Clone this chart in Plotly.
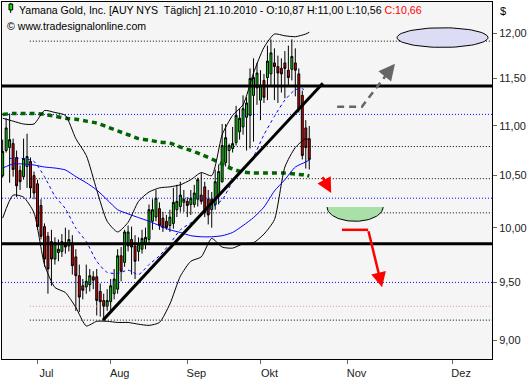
import math
import numpy as np
import plotly.graph_objects as go

# ---------------- data (daily bars, index 0 = 17 Jun 2010 ... 88 = 21 Oct 2010) -------------
bar_index = list(range(89))
opens = [10.50, 10.75, 10.78, 10.82, 10.68, 10.55, 10.49, 10.59, 10.64, 10.50,
         10.42, 10.21, 10.01, 9.92, 9.87, 9.71, 9.77, 9.78, 9.86, 9.83,
         9.86, 9.73, 9.56, 9.47, 9.46, 9.48, 9.55, 9.55, 9.42, 9.34,
         9.29, 9.33, 9.40, 9.44, 9.74, 9.68, 9.83, 9.89, 9.83, 9.78,
         9.80, 9.85, 9.89, 10.06, 10.10, 10.18, 10.09, 10.06, 10.02, 10.04,
         10.17, 10.20, 10.24, 10.25, 10.22, 10.22, 10.27, 10.31, 10.39, 10.27,
         10.17, 10.22, 10.31, 10.44, 10.63, 10.75, 10.77, 10.83, 10.94, 10.99,
         11.09, 11.11, 11.32, 11.40, 11.27, 11.48, 11.51, 11.55, 11.67, 11.63,
         11.61, 11.67, 11.59, 11.60, 11.67, 11.55, 11.32, 10.98, 10.87]
highs = [10.86, 11.08, 11.13, 10.87, 10.75, 10.60, 10.87, 10.92, 10.68, 10.54,
         10.46, 10.27, 10.04, 9.96, 9.98, 9.91, 9.89, 9.94, 10.00, 9.98,
         9.93, 9.80, 9.66, 9.53, 9.66, 9.62, 9.60, 9.62, 9.49, 9.40,
         9.44, 9.53, 9.62, 9.80, 9.82, 9.98, 10.02, 10.01, 9.93, 9.91,
         9.98, 10.00, 10.22, 10.27, 10.36, 10.24, 10.15, 10.12, 10.17, 10.38,
         10.41, 10.44, 10.36, 10.29, 10.36, 10.41, 10.48, 10.53, 10.44, 10.36,
         10.34, 10.56, 10.61, 11.02, 11.02, 10.82, 10.99, 11.21, 11.18, 11.32,
         11.30, 11.61, 11.72, 11.67, 11.59, 11.55, 11.86, 11.93, 11.83, 11.75,
         11.72, 11.80, 11.86, 11.93, 11.83, 11.61, 11.37, 11.06, 11.00]
lows = [10.48, 10.73, 10.43, 10.49, 10.29, 10.36, 10.46, 10.38, 10.28, 10.27,
        9.98, 9.89, 9.64, 9.40, 9.47, 9.66, 9.69, 9.73, 9.76, 9.78,
        9.57, 9.25, 9.24, 9.35, 9.40, 9.42, 9.44, 9.21, 9.20, 9.17,
        9.25, 9.25, 9.35, 9.40, 9.51, 9.64, 9.78, 9.57, 9.53, 9.69,
        9.76, 9.80, 9.86, 9.98, 10.06, 9.98, 9.96, 9.98, 9.96, 9.99,
        10.10, 10.15, 10.15, 10.10, 10.12, 10.19, 10.20, 10.22, 10.10, 10.03,
        10.00, 10.17, 10.22, 10.43, 10.59, 10.56, 10.73, 10.80, 10.86, 10.91,
        10.75, 10.77, 10.84, 11.22, 11.06, 11.24, 11.27, 11.42, 11.27, 11.24,
        11.35, 11.29, 11.42, 11.48, 11.31, 11.14, 10.66, 10.57, 10.56]
closes = [10.74, 10.98, 10.86, 10.56, 10.40, 10.44, 10.67, 10.69, 10.38, 10.33,
          10.01, 9.92, 9.71, 9.62, 9.71, 9.86, 9.80, 9.87, 9.82, 9.89,
          9.65, 9.56, 9.37, 9.43, 9.51, 9.56, 9.52, 9.34, 9.33, 9.29,
          9.34, 9.47, 9.53, 9.74, 9.60, 9.96, 9.96, 9.82, 9.69, 9.85,
          9.90, 9.91, 10.17, 10.17, 10.28, 10.02, 10.00, 10.00, 10.10, 10.24,
          10.25, 10.31, 10.27, 10.21, 10.28, 10.33, 10.46, 10.25, 10.14, 10.12,
          10.27, 10.44, 10.54, 10.80, 10.88, 10.80, 10.82, 11.11, 11.08, 11.18,
          11.24, 11.50, 11.51, 11.56, 11.43, 11.30, 11.69, 11.78, 11.63, 11.56,
          11.55, 11.61, 11.51, 11.74, 11.59, 11.18, 10.70, 10.78, 10.66]

# indicator values read at every third bar
ind_index = [0, 3, 6, 9, 12, 15, 18, 21, 24, 27, 30, 33, 36, 39, 42, 45, 48, 51, 54, 57,
             60, 63, 66, 69, 72, 75, 78, 81, 84, 87, 88]
bb_upper = [11.08, 11.05, 11.02, 11.02, 11.16, 11.14, 11.11, 10.87, 10.70, 10.36,
            10.06, 9.96, 10.05, 10.25, 10.34, 10.38, 10.39, 10.41, 10.46, 10.53,
            10.50, 10.91, 11.11, 11.22, 11.56, 11.84, 11.99, 11.97, 11.96, 11.99, 12.01]
bb_lower = [10.09, 10.31, 10.29, 10.14, 9.66, 9.455, 9.41, 9.28, 9.12, 9.16,
            9.16, 9.15, 9.15, 9.135, 9.125, 9.15, 9.31, 9.555, 9.69, 9.73,
            9.90, 9.82, 9.81, 9.85, 9.86, 9.94, 10.075, 10.585, 10.78, 10.87, 10.855]
ma_solid = [10.575, 10.615, 10.615, 10.605, 10.585, 10.575, 10.556, 10.49, 10.43, 10.36,
            10.265, 10.17, 10.13, 10.095, 10.06, 10.02, 9.98, 9.955, 9.925, 9.915,
            9.915, 9.925, 9.955, 10.02, 10.095, 10.195, 10.35, 10.46, 10.585, 10.635, 10.655]
ma_green = [11.12, 11.13, 11.13, 11.13, 11.12, 11.10, 11.08, 11.07, 11.05, 11.03,
            10.99, 10.95, 10.91, 10.87, 10.855, 10.835, 10.825, 10.785, 10.75, 10.71,
            10.665, 10.615, 10.565, 10.535, 10.525, 10.525, 10.525, 10.525, 10.515, 10.505, 10.495]
dash_index = [2, 6, 9, 12, 15, 18, 21, 24, 27, 30, 33, 36, 39, 42, 45, 48, 51, 54, 57,
              60, 63, 66, 69, 72, 75, 78, 81, 84, 86, 87]
ma_dashed = [10.67, 10.67, 10.64, 10.49, 10.30, 10.18, 9.995, 9.87, 9.69, 9.59,
             9.58, 9.61, 9.57, 9.66, 9.74, 9.85, 9.98, 10.045, 10.12, 10.19,
             10.265, 10.44, 10.556, 10.69, 10.91, 11.10, 11.27, 11.38, 11.39, 11.37]

# horizontal levels
thick_levels = [11.42, 9.85]
dotted_levels = [11.91, 11.12, 10.79, 10.47, 10.28, 10.14, 9.50, 9.29, 9.17]
dotted_colors = ["black", "blue", "black", "black", "blue", "black", "blue", "#d89090", "black"]
dotted_start = [7.8, -0.2, 7.8, 7.8, -0.2, 7.8, -0.2, 7.8, 7.8]

# trend line (bar index, price)
trend_x = [28.8, 91.9]
trend_y = [9.17, 11.45]

# axis ticks
month_ticks = [10, 31, 53, 74, 99, 129]
month_labels = ["Jul", "Aug", "Sep", "Okt", "Nov", "Dez"]
price_ticks = [9.0, 9.5, 10.0, 10.5, 11.0, 11.5, 12.0]
price_labels = ["9,00", "9,50", "10,00", "10,50", "11,00", "11,50", "12,00"]

X_RANGE = [-0.19, 140.45]
Y_RANGE = [0.94655, 1.09185]  # log10 of price range

# drawing annotations (bar index / price)
gray_path_x = [96.0, 103.1, 110.9]
gray_path_y = [11.20, 11.20, 11.58]
gray_head = (112.6, 11.66)
ellipse_center = (126.25, 11.95)
ellipse_rx = 13.05
ellipse_ry_log = 0.0040
bowl_x = (93.1, 109.2)
bowl_top, bowl_bottom = 10.195, 10.06
red_small = ((91.6, 10.50), (94.3, 10.33))
red_path_x = [97.4, 104.9]
red_path_y = [9.98, 9.98]
red_head = (108.9, 9.456)

fig = go.Figure()

# dotted levels (behind)
for lvl, col, x0 in zip(dotted_levels, dotted_colors, dotted_start):
    fig.add_trace(go.Scatter(x=[x0, X_RANGE[1]], y=[lvl, lvl], mode="lines",
                             line=dict(color=col, width=1, dash="1px,2px"),
                             hoverinfo="skip", showlegend=False))

# indicators
fig.add_trace(go.Scatter(x=ind_index, y=ma_green, mode="lines",
                         line=dict(color="#006400", width=3.5, dash="5px,4px", shape="spline", smoothing=0.6),
                         hoverinfo="skip", showlegend=False))
fig.add_trace(go.Scatter(x=ind_index, y=bb_upper, mode="lines",
                         line=dict(color="black", width=1, shape="spline", smoothing=0.6),
                         hoverinfo="skip", showlegend=False))
fig.add_trace(go.Scatter(x=ind_index, y=bb_lower, mode="lines",
                         line=dict(color="black", width=1, shape="spline", smoothing=0.6),
                         hoverinfo="skip", showlegend=False))
fig.add_trace(go.Scatter(x=ind_index, y=ma_solid, mode="lines",
                         line=dict(color="#0000ff", width=1, shape="spline", smoothing=0.6),
                         hoverinfo="skip", showlegend=False))
fig.add_trace(go.Scatter(x=dash_index, y=ma_dashed, mode="lines",
                         line=dict(color="#0000ff", width=1, dash="3px,3px", shape="spline", smoothing=0.6),
                         hoverinfo="skip", showlegend=False))

# candles
fig.add_trace(go.Candlestick(x=bar_index, open=opens, high=highs, low=lows, close=closes,
                             increasing=dict(fillcolor="#00dd00", line=dict(color="black", width=1)),
                             decreasing=dict(fillcolor="#e00000", line=dict(color="black", width=1)),
                             whiskerwidth=0, hoverinfo="skip", showlegend=False))

# thick lines
for lvl in thick_levels:
    fig.add_trace(go.Scatter(x=X_RANGE, y=[lvl, lvl], mode="lines",
                             line=dict(color="black", width=3), hoverinfo="skip", showlegend=False))
fig.add_trace(go.Scatter(x=trend_x, y=trend_y, mode="lines",
                         line=dict(color="black", width=3), hoverinfo="skip", showlegend=False))

# ellipse
t = np.linspace(0, 2 * np.pi, 80)
ey = 10 ** (math.log10(ellipse_center[1]) + ellipse_ry_log * np.sin(t))
ex = ellipse_center[0] + ellipse_rx * np.cos(t)
fig.add_trace(go.Scatter(x=ex, y=ey, mode="lines", fill="toself", fillcolor="#dcdcf4",
                         line=dict(color="black", width=1), hoverinfo="skip", showlegend=False))

# bowl (lower half ellipse)
tb = np.linspace(np.pi, 2 * np.pi, 50)
bcx = (bowl_x[0] + bowl_x[1]) / 2
brx = (bowl_x[1] - bowl_x[0]) / 2
btop = math.log10(bowl_top)
bry = btop - math.log10(bowl_bottom)
bx = bcx + brx * np.cos(tb)
by = 10 ** (btop + bry * np.sin(tb))
fig.add_trace(go.Scatter(x=np.append(bx, bx[0]), y=np.append(by, by[0]), mode="lines", fill="toself",
                         fillcolor="#a8e0a8", line=dict(color="rgba(0,0,0,0)", width=0),
                         hoverinfo="skip", showlegend=False))
fig.add_trace(go.Scatter(x=bx, y=by, mode="lines", line=dict(color="black", width=1),
                         hoverinfo="skip", showlegend=False))

# gray dashed path
fig.add_trace(go.Scatter(x=gray_path_x, y=gray_path_y, mode="lines",
                         line=dict(color="#666666", width=2.5, dash="7px,5px"),
                         hoverinfo="skip", showlegend=False))
# red path
fig.add_trace(go.Scatter(x=red_path_x, y=red_path_y, mode="lines",
                         line=dict(color="#ff0000", width=2.5), hoverinfo="skip", showlegend=False))

annotations = []
# arrows (log axis -> log10 of price)
annotations.append(dict(x=gray_head[0], y=math.log10(gray_head[1]), ax=gray_path_x[-1],
                        ay=math.log10(gray_path_y[-1]), xref="x", yref="y", axref="x", ayref="y",
                        text="", showarrow=True, arrowhead=2, arrowsize=1.3, arrowwidth=2.5,
                        arrowcolor="#666666", standoff=0))
annotations.append(dict(x=red_small[1][0], y=math.log10(red_small[1][1]), ax=red_small[0][0],
                        ay=math.log10(red_small[0][1]), xref="x", yref="y", axref="x", ayref="y",
                        text="", showarrow=True, arrowhead=2, arrowsize=1.2, arrowwidth=2.5,
                        arrowcolor="#ff0000", standoff=0))
annotations.append(dict(x=red_head[0], y=math.log10(red_head[1]), ax=red_path_x[-1],
                        ay=math.log10(red_path_y[-1]), xref="x", yref="y", axref="x", ayref="y",
                        text="", showarrow=True, arrowhead=2, arrowsize=1.2, arrowwidth=2.5,
                        arrowcolor="#ff0000", standoff=0))

FONT = "Liberation Sans"
annotations.append(dict(x=0.0306, y=0.9777, xref="paper", yref="paper", xanchor="left", yanchor="middle",
                        showarrow=False, font=dict(family=FONT, size=10.6, color="black"),
                        text="Yamana Gold, Inc. [AUY NYS\u00a0 Täglich] 21.10.2010 - O:10,87 H:11,00 L:10,56 "
                             "<span style='color:#ff0000'>C:10,66</span>"))
annotations.append(dict(x=0.006, y=0.933, xref="paper", yref="paper", xanchor="left", yanchor="middle",
                        showarrow=False, font=dict(family=FONT, size=10.6, color="black"),
                        text="© www.tradesignalonline.com"))
annotations.append(dict(x=1.012, y=0.975, xref="paper", yref="paper", xanchor="left", yanchor="middle",
                        showarrow=False, font=dict(family=FONT, size=11, color="black"), text="$"))

shapes = [
    dict(type="line", xref="paper", yref="paper", x0=0.0177, x1=0.0177, y0=0.9975, y1=0.9693,
         line=dict(color="black", width=1)),
    dict(type="rect", xref="paper", yref="paper", x0=0.0143, x1=0.0218, y0=0.9944, y1=0.9777,
         line=dict(color="black", width=1), fillcolor="#00dd00"),
]

fig.update_layout(
    width=530, height=380,
    margin=dict(l=2, r=38, t=1, b=20),
    paper_bgcolor="white", plot_bgcolor="#f5f5f5",
    showlegend=False, hovermode=False,
    boxgap=0.2,
    annotations=annotations, shapes=shapes,
    font=dict(family=FONT, size=11, color="#222222"),
    xaxis=dict(range=X_RANGE, type="linear", showgrid=False, zeroline=False,
               tickvals=month_ticks, ticktext=month_labels, ticks="outside", ticklen=4,
               tickcolor="#666666", showline=True, linecolor="black", linewidth=1, mirror=True,
               rangeslider=dict(visible=False), ticklabelshift=9,
               tickfont=dict(family=FONT, size=11, color="#222222")),
    yaxis=dict(type="log", range=Y_RANGE, side="right", showgrid=False, zeroline=False,
               tickvals=price_ticks, ticktext=price_labels, ticks="outside", ticklen=4,
               tickcolor="#666666", showline=True, linecolor="black", linewidth=1, mirror=True,
               tickfont=dict(family=FONT, size=11, color="#222222")),
)

fig.write_html("out.html", config={"displayModeBar": False},
               post_script="document.body.style.margin='0';document.body.style.padding='0';")
